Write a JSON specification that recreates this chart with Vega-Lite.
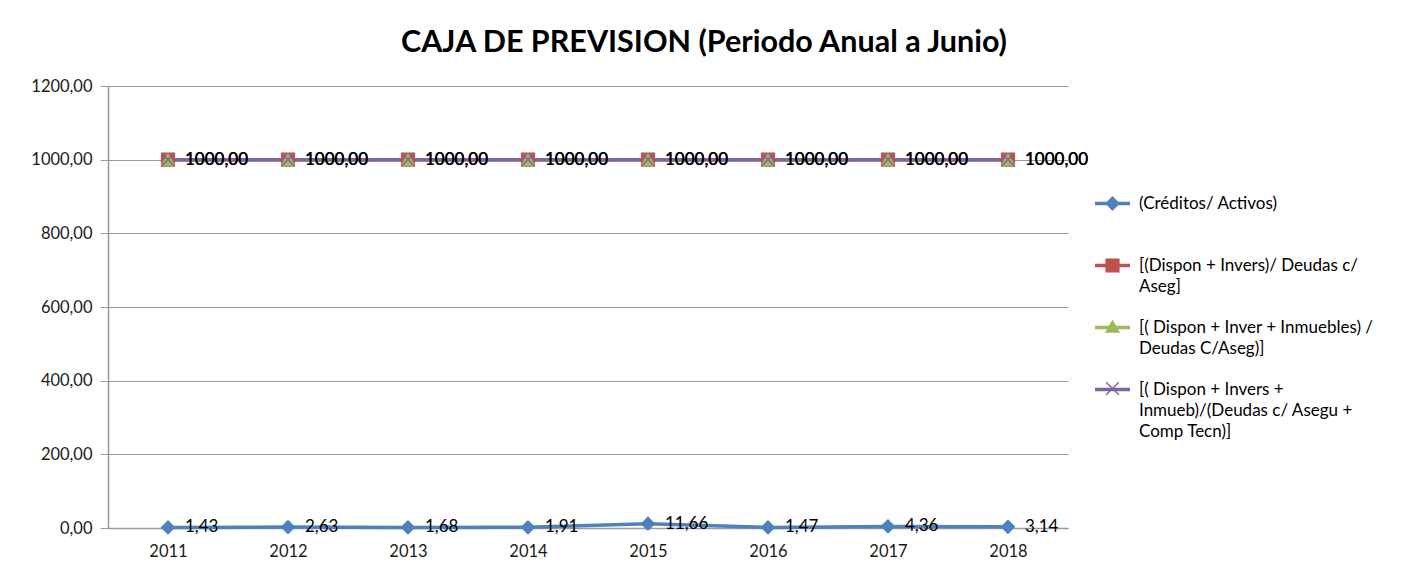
{
  "$schema": "https://vega.github.io/schema/vega-lite/v6.json",
  "width": 960,
  "height": 442,
  "autosize": {"type": "none"},
  "padding": {"left": 108, "top": 86, "right": 340, "bottom": 59},
  "background": "white",
  "title": {"text": "CAJA DE PREVISION (Periodo Anual a Junio)", "font": "Lato", "fontSize": 30.5, "fontWeight": "bold", "color": "#000000", "anchor": "middle", "dx": 116, "offset": 20},
  "config": {
    "locale": {"number": {"decimal": ",", "thousands": ".", "grouping": [3], "currency": ["", ""]}},
    "view": {"stroke": null},
    "font": "Lato"
  },
  "data": {"values": [
    {"year": "2011", "series": "(Créditos/ Activos)", "value": 1.43},
    {"year": "2012", "series": "(Créditos/ Activos)", "value": 2.63},
    {"year": "2013", "series": "(Créditos/ Activos)", "value": 1.68},
    {"year": "2014", "series": "(Créditos/ Activos)", "value": 1.91},
    {"year": "2015", "series": "(Créditos/ Activos)", "value": 11.66},
    {"year": "2016", "series": "(Créditos/ Activos)", "value": 1.47},
    {"year": "2017", "series": "(Créditos/ Activos)", "value": 4.36},
    {"year": "2018", "series": "(Créditos/ Activos)", "value": 3.14},
    {"year": "2011", "series": "[(Dispon + Invers)/ Deudas c/ Aseg]", "value": 1000},
    {"year": "2012", "series": "[(Dispon + Invers)/ Deudas c/ Aseg]", "value": 1000},
    {"year": "2013", "series": "[(Dispon + Invers)/ Deudas c/ Aseg]", "value": 1000},
    {"year": "2014", "series": "[(Dispon + Invers)/ Deudas c/ Aseg]", "value": 1000},
    {"year": "2015", "series": "[(Dispon + Invers)/ Deudas c/ Aseg]", "value": 1000},
    {"year": "2016", "series": "[(Dispon + Invers)/ Deudas c/ Aseg]", "value": 1000},
    {"year": "2017", "series": "[(Dispon + Invers)/ Deudas c/ Aseg]", "value": 1000},
    {"year": "2018", "series": "[(Dispon + Invers)/ Deudas c/ Aseg]", "value": 1000},
    {"year": "2011", "series": "[( Dispon + Inver + Inmuebles) / Deudas C/Aseg)]", "value": 1000},
    {"year": "2012", "series": "[( Dispon + Inver + Inmuebles) / Deudas C/Aseg)]", "value": 1000},
    {"year": "2013", "series": "[( Dispon + Inver + Inmuebles) / Deudas C/Aseg)]", "value": 1000},
    {"year": "2014", "series": "[( Dispon + Inver + Inmuebles) / Deudas C/Aseg)]", "value": 1000},
    {"year": "2015", "series": "[( Dispon + Inver + Inmuebles) / Deudas C/Aseg)]", "value": 1000},
    {"year": "2016", "series": "[( Dispon + Inver + Inmuebles) / Deudas C/Aseg)]", "value": 1000},
    {"year": "2017", "series": "[( Dispon + Inver + Inmuebles) / Deudas C/Aseg)]", "value": 1000},
    {"year": "2018", "series": "[( Dispon + Inver + Inmuebles) / Deudas C/Aseg)]", "value": 1000},
    {"year": "2011", "series": "[( Dispon + Invers + Inmueb)/(Deudas c/ Asegu + Comp Tecn)]", "value": 1000},
    {"year": "2012", "series": "[( Dispon + Invers + Inmueb)/(Deudas c/ Asegu + Comp Tecn)]", "value": 1000},
    {"year": "2013", "series": "[( Dispon + Invers + Inmueb)/(Deudas c/ Asegu + Comp Tecn)]", "value": 1000},
    {"year": "2014", "series": "[( Dispon + Invers + Inmueb)/(Deudas c/ Asegu + Comp Tecn)]", "value": 1000},
    {"year": "2015", "series": "[( Dispon + Invers + Inmueb)/(Deudas c/ Asegu + Comp Tecn)]", "value": 1000},
    {"year": "2016", "series": "[( Dispon + Invers + Inmueb)/(Deudas c/ Asegu + Comp Tecn)]", "value": 1000},
    {"year": "2017", "series": "[( Dispon + Invers + Inmueb)/(Deudas c/ Asegu + Comp Tecn)]", "value": 1000},
    {"year": "2018", "series": "[( Dispon + Invers + Inmueb)/(Deudas c/ Asegu + Comp Tecn)]", "value": 1000}
  ]},
  "encoding": {
    "x": {"field": "year", "type": "ordinal", "scale": {"type": "point", "padding": 0.5},
      "axis": {"title": null, "labelAngle": 0, "ticks": false, "labelPadding": 15, "labelFont": "Lato", "labelFontSize": 16.5, "labelColor": "#1a1a1a", "domainColor": "#9a9a9a", "domainWidth": 1.5, "grid": false}},
    "y": {"field": "value", "type": "quantitative", "scale": {"domain": [0, 1200], "nice": false},
      "axis": {"title": null, "values": [0, 200, 400, 600, 800, 1000, 1200], "format": ".2f", "grid": true, "gridColor": "#9a9a9a", "gridWidth": 1.2, "domainColor": "#9a9a9a", "domainWidth": 1.5, "tickColor": "#9a9a9a", "tickSize": 8, "labelPadding": 8, "labelFont": "Lato", "labelFontSize": 16.5, "labelColor": "#1a1a1a"}}
  },
  "layer": [
    {
      "mark": {"type": "line", "strokeWidth": 3.5},
      "encoding": {
        "color": {"field": "series", "type": "nominal",
          "sort": ["(Créditos/ Activos)", "[(Dispon + Invers)/ Deudas c/ Aseg]", "[( Dispon + Inver + Inmuebles) / Deudas C/Aseg)]", "[( Dispon + Invers + Inmueb)/(Deudas c/ Asegu + Comp Tecn)]"],
          "scale": {"range": ["#4F81BD", "#C0504D", "#9BBB59", "#8064A2"]},
          "legend": {"orient": "none", "legendX": 985, "legendY": 98, "title": null, "gridAlign": "each", "symbolType": "stroke", "symbolSize": 1225, "symbolStrokeWidth": 3.5, "labelFont": "Lato", "labelFontSize": 17, "labelColor": "#000000", "labelLimit": 400, "labelOffset": 7, "rowPadding": 13, "labelBaseline": "top",
            "labelExpr": "datum.label == '(Créditos/ Activos)' ? ['(Créditos/ Activos)', ''] : datum.label == '[(Dispon + Invers)/ Deudas c/ Aseg]' ? ['[(Dispon + Invers)/ Deudas c/', 'Aseg]'] : datum.label == '[( Dispon + Inver + Inmuebles) / Deudas C/Aseg)]' ? ['[( Dispon + Inver + Inmuebles) /', 'Deudas C/Aseg)]'] : ['[( Dispon + Invers +', 'Inmueb)/(Deudas c/ Asegu +', 'Comp Tecn)]']",
            "encode": {"labels": {"update": {"lineHeight": {"value": 21}, "dy": {"value": -8}}}}}
        }
      }
    },
    {
      "mark": {"type": "point", "filled": true, "size": 160, "strokeWidth": 1.5, "opacity": 1},
      "encoding": {
        "fill": {"field": "series", "type": "nominal",
          "scale": {"domain": ["(Créditos/ Activos)", "[(Dispon + Invers)/ Deudas c/ Aseg]", "[( Dispon + Inver + Inmuebles) / Deudas C/Aseg)]", "[( Dispon + Invers + Inmueb)/(Deudas c/ Asegu + Comp Tecn)]"], "range": ["#4F81BD", "#C0504D", "#9BBB59", "#8064A2"]},
          "legend": {"orient": "none", "legendX": 996, "legendY": 109, "title": null, "gridAlign": "each", "symbolSize": 160, "labelFont": "Lato", "labelFontSize": 17, "labelColor": "transparent", "labelLimit": 400, "labelOffset": 9, "rowPadding": 17, "labelBaseline": "top",
            "labelExpr": "datum.label == '(Créditos/ Activos)' ? ['(Créditos/ Activos)', ''] : datum.label == '[(Dispon + Invers)/ Deudas c/ Aseg]' ? ['[(Dispon + Invers)/ Deudas c/', 'Aseg]'] : datum.label == '[( Dispon + Inver + Inmuebles) / Deudas C/Aseg)]' ? ['[( Dispon + Inver + Inmuebles) /', 'Deudas C/Aseg)]'] : ['[( Dispon + Invers +', 'Inmueb)/(Deudas c/ Asegu +', 'Comp Tecn)]']",
            "encode": {"labels": {"update": {"lineHeight": {"value": 21}, "dy": {"value": -8}}}}}
        },
        "stroke": {"field": "series", "type": "nominal",
          "scale": {"domain": ["(Créditos/ Activos)", "[(Dispon + Invers)/ Deudas c/ Aseg]", "[( Dispon + Inver + Inmuebles) / Deudas C/Aseg)]", "[( Dispon + Invers + Inmueb)/(Deudas c/ Asegu + Comp Tecn)]"], "range": ["#4F81BD", "#C0504D", "#9BBB59", "#8064A2"]},
          "legend": {"orient": "none", "legendX": 996, "legendY": 109, "title": null, "gridAlign": "each", "symbolSize": 160, "labelFont": "Lato", "labelFontSize": 17, "labelColor": "transparent", "labelLimit": 400, "labelOffset": 9, "rowPadding": 17, "labelBaseline": "top",
            "labelExpr": "datum.label == '(Créditos/ Activos)' ? ['(Créditos/ Activos)', ''] : datum.label == '[(Dispon + Invers)/ Deudas c/ Aseg]' ? ['[(Dispon + Invers)/ Deudas c/', 'Aseg]'] : datum.label == '[( Dispon + Inver + Inmuebles) / Deudas C/Aseg)]' ? ['[( Dispon + Inver + Inmuebles) /', 'Deudas C/Aseg)]'] : ['[( Dispon + Invers +', 'Inmueb)/(Deudas c/ Asegu +', 'Comp Tecn)]']",
            "encode": {"labels": {"update": {"lineHeight": {"value": 21}, "dy": {"value": -8}}}}}
        },
        "shape": {"field": "series", "type": "nominal",
          "scale": {"domain": ["(Créditos/ Activos)", "[(Dispon + Invers)/ Deudas c/ Aseg]", "[( Dispon + Inver + Inmuebles) / Deudas C/Aseg)]", "[( Dispon + Invers + Inmueb)/(Deudas c/ Asegu + Comp Tecn)]"], "range": ["diamond", "square", "triangle-up", "M-1,-1L1,1M-1,1L1,-1"]},
          "legend": {"orient": "none", "legendX": 996, "legendY": 109, "title": null, "gridAlign": "each", "symbolSize": 160, "labelFont": "Lato", "labelFontSize": 17, "labelColor": "transparent", "labelLimit": 400, "labelOffset": 9, "rowPadding": 17, "labelBaseline": "top",
            "labelExpr": "datum.label == '(Créditos/ Activos)' ? ['(Créditos/ Activos)', ''] : datum.label == '[(Dispon + Invers)/ Deudas c/ Aseg]' ? ['[(Dispon + Invers)/ Deudas c/', 'Aseg]'] : datum.label == '[( Dispon + Inver + Inmuebles) / Deudas C/Aseg)]' ? ['[( Dispon + Inver + Inmuebles) /', 'Deudas C/Aseg)]'] : ['[( Dispon + Invers +', 'Inmueb)/(Deudas c/ Asegu +', 'Comp Tecn)]']",
            "encode": {"labels": {"update": {"lineHeight": {"value": 21}, "dy": {"value": -8}}}}}
        }
      }
    },
    {
      "mark": {"type": "text", "align": "left", "baseline": "middle", "dx": 17, "font": "Lato", "fontSize": 17, "color": "#000000"},
      "encoding": {
        "text": {"field": "value", "type": "quantitative", "format": ".2f"}
      }
    }
  ]
}
